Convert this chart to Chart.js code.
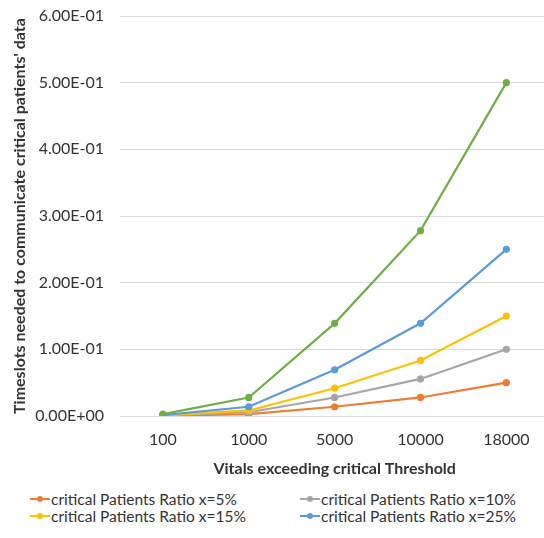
<!DOCTYPE html>
<html>
<head>
<meta charset="utf-8">
<script src="https://cdn.jsdelivr.net/npm/chart.js@4"></script>
<style>
  html, body { margin: 0; padding: 0; background: #fff; overflow: hidden; }
  #wrap { position: absolute; left: 0; top: 0; width: 554px; height: 480px; }
  #legend { position: absolute; left: 30px; top: 490px; width: 514px;
    display: grid; grid-template-columns: 270px 244px; row-gap: 0px;
    font: 15.5px Lato, sans-serif; color: #333; }
  .item { display: flex; align-items: center; height: 17px; }
  .mark { position: relative; width: 20px; height: 2px; margin-right: 1px; }
  .mark i { position: absolute; left: 7px; top: -2px; width: 6px; height: 6px; border-radius: 50%; }
</style>
</head>
<body>
<div id="wrap"><canvas id="chart"></canvas></div>
<div id="legend"></div>
<script>
// x categories
const thresholds = ['100', '1000', '5000', '10000', '18000'];

// series values
const ratio5 = [0.00028, 0.0028, 0.0139, 0.0278, 0.05];
const ratio10 = [0.00056, 0.0056, 0.0278, 0.0556, 0.10];
const ratio15 = [0.00083, 0.0083, 0.0417, 0.0833, 0.15];
const ratio25 = [0.00139, 0.0139, 0.0694, 0.139, 0.25];
const ratio50 = [0.00278, 0.0278, 0.139, 0.278, 0.50];

const seriesNames = [
  'critical Patients Ratio x=5%',
  'critical Patients Ratio x=10%',
  'critical Patients Ratio x=15%',
  'critical Patients Ratio x=25%',
  'critical Patients Ratio x=50%'
];
const colors = ['#ED7D31', '#A5A5A5', '#FFC000', '#5B9BD5', '#70AD47'];
const allSeries = [ratio5, ratio10, ratio15, ratio25, ratio50];

const font = 'Lato, sans-serif';

const datasets = allSeries.map((vals, i) => ({
  label: seriesNames[i],
  data: vals,
  borderColor: colors[i],
  backgroundColor: colors[i],
  borderWidth: 2.2,
  pointRadius: 2.5,
  pointHoverRadius: 2.5,
  tension: 0,
  fill: false,
  order: 4 - i
}));

new Chart(document.getElementById('chart').getContext('2d'), {
  type: 'line',
  data: { labels: thresholds, datasets: datasets },
  options: {
    responsive: true,
    maintainAspectRatio: false,
    animation: false,
    layout: { padding: { left: 6, top: 16, right: 0, bottom: 0 } },
    plugins: {
      legend: { display: false },
      tooltip: { enabled: false }
    },
    scales: {
      x: {
        offset: true,
        grid: { display: false, drawTicks: false },
        border: { display: false },
        ticks: { color: '#333', font: { family: font, size: 16 }, padding: 14 },
        title: {
          display: true,
          text: 'Vitals exceeding critical Threshold',
          color: '#333',
          font: { family: font, size: 16, weight: 'bold' },
          padding: { top: 4, bottom: 2 }
        },
        afterFit: (scale) => { scale.height = 64; }
      },
      y: {
        min: 0,
        max: 0.6,
        grid: { color: '#d9d9d9', lineWidth: 1, drawTicks: false },
        border: { display: false },
        ticks: {
          stepSize: 0.1,
          color: '#333',
          font: { family: font, size: 16 },
          padding: 16,
          callback: (v) => {
            const s = Number(v).toExponential(2).toUpperCase();
            return s.replace(/E([+-])(\d)$/, 'E$10$2');
          }
        },
        title: {
          display: true,
          text: "Timeslots needed to communicate critical patients' data",
          color: '#333',
          font: { family: font, size: 16, weight: 'bold' },
          padding: { top: 4, bottom: 4 }
        },
        afterFit: (scale) => {
          scale.width = 114;
          scale.paddingTop = 0;
          scale.paddingBottom = 0;
        }
      }
    }
  }
});

// legend (only the four listed ratios, two columns)
const legend = document.getElementById('legend');
[0, 1, 2, 3].forEach(i => {
  const item = document.createElement('div');
  item.className = 'item';
  item.innerHTML = '<span class="mark" style="background:' + colors[i] + '"><i style="background:' +
    colors[i] + '"></i></span><span>' + seriesNames[i] + '</span>';
  legend.appendChild(item);
});
</script>
</body>
</html>
